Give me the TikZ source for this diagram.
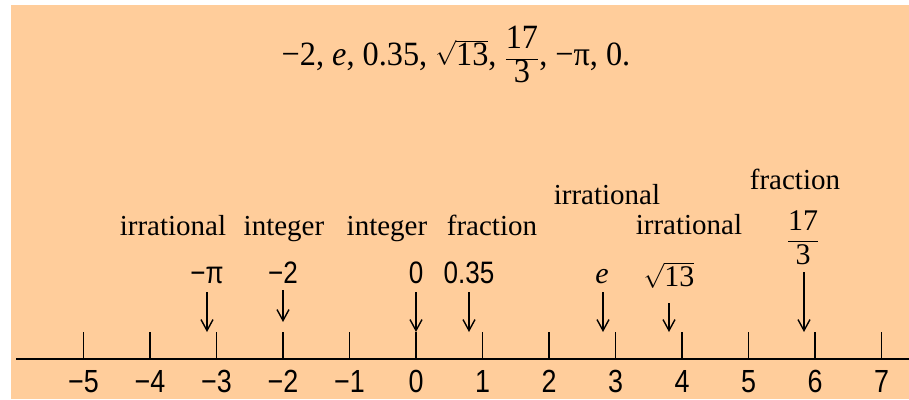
\documentclass[tikz,border=0pt]{standalone}
\usepackage{fontspec}
\setmainfont{Liberation Serif}
\newfontfamily\arialf[FakeStretch=0.84]{Liberation Sans}
\newfontfamily\serifn[FakeStretch=0.95]{Liberation Serif}
\usetikzlibrary{arrows.meta}
\definecolor{peach}{RGB}{255,205,155}
\tikzset{
  catlab/.style={anchor=base, inner sep=0pt, font=\fontsize{29}{32}\selectfont},
  numlab/.style={anchor=base, inner sep=0pt, font=\arialf\fontsize{31}{34}\selectfont},
  axlab/.style={anchor=base, inner sep=0pt, font=\arialf\fontsize{32}{36}\selectfont},
  arr/.style={line width=1.4pt, -{Straight Barb[length=11pt,width=12pt,line width=1.4pt]}},
  tick/.style={line width=1.5pt},
  axis/.style={line width=2.2pt}
}
\begin{document}
\begin{tikzpicture}[x=1pt,y=-1pt]
\useasboundingbox (0,0) rectangle (909,399);
\fill[white] (0,0) rectangle (909,399);
\fill[peach] (11,5) rectangle (909,399);
% formula
\node[anchor=base, inner sep=0pt, font=\serifn\fontsize{34}{40}\selectfont] (formula) at (456,65)
  {−2, \textit{e}, 0.35, $\sqrt{\hbox{13}}$, $\displaystyle\frac{\hbox{17}}{\hbox{3}}$, −π, 0.};
% axis
\coordinate (axL) at (16,359);
\coordinate (axR) at (909,359);
\draw[axis] (axL) -- (axR);
\foreach \k in {-5,...,7}{
  \coordinate (t\k) at ({416+66.5*\k},332);
  \coordinate (b\k) at ({416+66.5*\k},359);
  \draw[tick] (t\k) -- (b\k);
  \pgfmathtruncatemacro{\ab}{abs(\k)}
  \ifnum\k<0
    \node[axlab] (l\k) at ({416+66.5*\k},392) {−\ab};
  \else
    \node[axlab] (l\k) at ({416+66.5*\k},392) {\k};
  \fi
}
% category labels
\node[catlab] (c1) at (173,235) {irrational};
\node[catlab] (c2) at (284,235) {integer};
\node[catlab] (c3) at (387,235) {integer};
\node[catlab] (c4) at (492,235) {fraction};
\node[catlab] (c5) at (607,204) {irrational};
\node[catlab] (c6) at (689,234) {irrational};
\node[catlab] (c7) at (795,189) {fraction};
% number labels
\node[numlab] (n1) at (207,283) {−π};
\node[numlab] (n2) at (283,283) {−2};
\node[numlab] (n3) at (416,283) {0};
\node[numlab] (n4) at (469,283) {0.35};
\node[anchor=base, inner sep=0pt, font=\fontsize{30}{34}\selectfont] (n5) at (602,283) {\textit{e}};
\node[anchor=base, inner sep=0pt, font=\fontsize{30}{34}\selectfont] (n6) at (669,286) {$\sqrt{\hbox{13}}$};
\node[anchor=center, inner sep=0pt, font=\fontsize{30}{34}\selectfont] (n7) at (803,238) {$\displaystyle\frac{\hbox{17}}{\hbox{3}}$};
% arrows
\coordinate (s1) at (207,292); \coordinate (e1) at (207,332);
\coordinate (s2) at (283,290); \coordinate (e2) at (283,322);
\coordinate (s3) at (416,292); \coordinate (e3) at (416,332);
\coordinate (s4) at (469,292); \coordinate (e4) at (469,332);
\coordinate (s5) at (603,292); \coordinate (e5) at (603,332);
\coordinate (s6) at (669,303); \coordinate (e6) at (669,332);
\coordinate (s7) at (804,272); \coordinate (e7) at (804,332);
\foreach \i in {1,...,7}{ \draw[arr] (s\i) -- (e\i); }
\end{tikzpicture}
\end{document}
